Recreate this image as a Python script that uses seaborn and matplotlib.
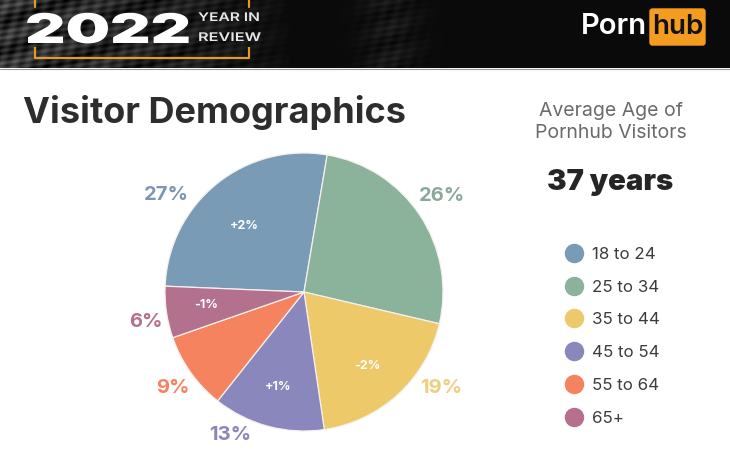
"""Visitor demographics pie with the year-in-review header band."""

import numpy as np
import matplotlib

matplotlib.use("Agg")
import matplotlib.pyplot as plt
import matplotlib.patheffects as pe
from matplotlib.lines import Line2D
from matplotlib.patches import FancyBboxPatch
from matplotlib.transforms import Affine2D
import seaborn as sns

WIDTH, HEIGHT = 730, 471

age_groups = ["18 to 24", "25 to 34", "35 to 44", "45 to 54", "55 to 64", "65+"]
shares = [27, 26, 19, 13, 9, 6]
share_labels = ["27%", "26%", "19%", "13%", "9%", "6%"]
change_labels = ["+2%", "", "-2%", "+1%", "", "-1%"]
slice_colors = ["#7a9bb5", "#8bb29b", "#edc96a", "#8a87bd", "#f5835f", "#b3718d"]
share_label_colors = ["#7f95b5", "#8ba99a", "#edcf80", "#8a87b8", "#f5835f", "#b3718d"]

# pixel positions of the text around the pie
share_label_xy = [(166, 195), (442, 196), (441, 388), (230, 435), (173, 388), (146, 322)]
change_label_xy = [(244, 226), None, (367, 366), (278, 387), None, (206, 305)]


class StretchX(pe.AbstractPathEffect):
    """Widen text around a pixel x, there is no extended font installed."""

    def __init__(self, x0, factor):
        super().__init__()
        self.x0 = x0
        self.factor = factor

    def draw_path(self, renderer, gc, tpath, affine, rgbFace=None):
        stretch = Affine2D().translate(-self.x0, 0).scale(self.factor, 1).translate(self.x0, 0)
        renderer.draw_path(gc, tpath, affine + stretch, rgbFace)


sns.set_theme(style="white")
plt.rcParams["font.family"] = ["Inter", "DejaVu Sans"]

fig = plt.figure(figsize=(WIDTH / 100, HEIGHT / 100), dpi=100, facecolor="white")

# overlay in pixel coordinates, y going down like the picture
bg = fig.add_axes([0, 0, 1, 1])
bg.set_xlim(0, WIDTH)
bg.set_ylim(HEIGHT, 0)
bg.axis("off")

# header band with a faint rock texture on the left
xx, yy = np.meshgrid(np.arange(WIDTH), np.arange(68))
grain = np.sin(xx * 0.31 + yy * 0.57) * np.sin(xx * 0.17 - yy * 0.43) + 0.6 * np.sin(xx * 0.07 + yy * 0.21)
fade = np.clip((290 - xx) / 290, 0, 1) ** 0.7 + 0.3 * np.exp(-((xx - 390) / 30.0) ** 2)
band = np.clip(0.04 + fade * (0.14 + 0.12 * grain), 0, 1)
bg.imshow(band, cmap="gray", vmin=0, vmax=1, extent=(0, WIDTH, 68, 0), aspect="auto", zorder=0,
          interpolation="bilinear")
bg.set_xlim(0, WIDTH)
bg.set_ylim(HEIGHT, 0)
bg.plot([0, WIDTH], [68.5, 68.5], color="#9a9a9a", lw=0.8, zorder=1)

# orange bracket behind the year
bracket = "#e39a2c"
bg.plot([35, 35, 249, 249], [47, 58, 58, 47], color=bracket, lw=1.6, zorder=2, solid_capstyle="butt")
bg.plot([35, 35], [0, 7], color=bracket, lw=1.6, zorder=2)
bg.plot([249, 249], [0, 7], color=bracket, lw=1.6, zorder=2)

year = bg.text(25, 43, "2022", color="white", fontsize=29.5, fontweight="black", ha="left",
               va="baseline", zorder=3)
year.set_path_effects([StretchX(25, 1.53)])
year_in = bg.text(198, 18, "YEAR IN", color="#e8e8e8", fontsize=8.6, fontweight="semibold", va="center", zorder=3)
year_in.set_path_effects([StretchX(198, 1.3)])
review = bg.text(198, 38, "REVIEW", color="#e8e8e8", fontsize=8.6, fontweight="semibold", va="center", zorder=3)
review.set_path_effects([StretchX(198, 1.36)])

# logo
bg.add_patch(FancyBboxPatch((650, 9), 55, 36, boxstyle="round,pad=0,rounding_size=2.5",
                            facecolor="#f39c1f", edgecolor="#f39c1f", lw=1, zorder=3))
bg.text(647, 26, "Porn", color="white", fontsize=21, fontweight="semibold", ha="right", va="center", zorder=4)
bg.text(677.5, 27, "hub", color="#111111", fontsize=20, fontweight="semibold", ha="center", va="center", zorder=4)

bg.text(23, 113, "Visitor Demographics", color="#2d2d2d", fontsize=26, fontweight="bold",
        ha="left", va="center")
bg.text(611, 111, "Average Age of", color="#6a6a6a", fontsize=14, ha="center", va="center")
bg.text(611, 133, "Pornhub Visitors", color="#6a6a6a", fontsize=14, ha="center", va="center")
bg.text(610, 182, "37 years", color="#252525", fontsize=21, fontweight="black", ha="center", va="center")

# pie, radius 139 px around (304, 292)
ax = fig.add_axes([(304 - 139) / WIDTH, (HEIGHT - 292 - 139) / HEIGHT, 278 / WIDTH, 278 / HEIGHT])
ax.pie(shares, colors=slice_colors, startangle=177.6, counterclock=False, radius=1,
       wedgeprops={"edgecolor": "#f4f0ec", "linewidth": 0.9})
ax.set_xlim(-1, 1)
ax.set_ylim(-1, 1)

for text, color, (x, y) in zip(share_labels, share_label_colors, share_label_xy):
    bg.text(x, y, text, color=color, fontsize=14.5, fontweight="bold", ha="center", va="center")

overlay = fig.add_axes([0, 0, 1, 1], facecolor="none")
overlay.set_xlim(0, WIDTH)
overlay.set_ylim(HEIGHT, 0)
overlay.axis("off")
for text, xy in zip(change_labels, change_label_xy):
    if xy is not None:
        overlay.text(xy[0], xy[1], text, color="white", fontsize=9, fontweight="bold",
                     ha="center", va="center")

handles = [Line2D([], [], ls="none", marker="o", ms=13, mfc=c, mec=c) for c in slice_colors]
fig.legend(handles, age_groups, loc="upper left", bbox_to_anchor=(555 / WIDTH, 1 - 240 / HEIGHT),
           borderaxespad=0, frameon=False, fontsize=12.2, labelspacing=1.05, handletextpad=0.3,
           labelcolor="#3c3c3c", handlelength=1.5)

fig.savefig("out.png", dpi=100)
